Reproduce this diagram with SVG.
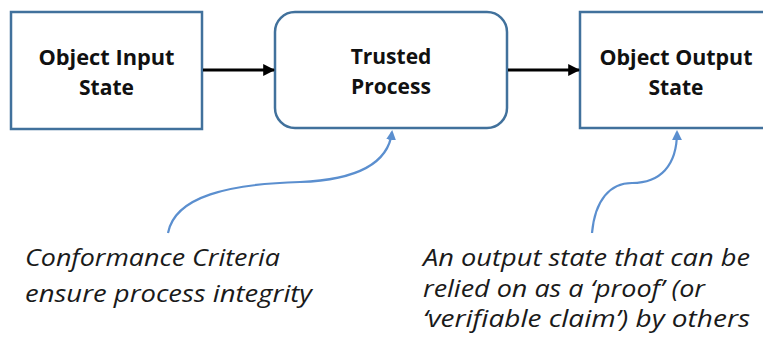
<svg xmlns="http://www.w3.org/2000/svg" width="763" height="341" viewBox="0 0 763 341">
  <style>
    .box { fill: #ffffff; stroke: #41719c; stroke-width: 2.5; }
    .label { font-family: "Open Sans", "Liberation Sans", sans-serif; font-weight: bold; font-size: 21px; fill: #111111; text-anchor: middle; }
    .note { font-family: "Open Sans", "Liberation Sans", sans-serif; font-style: italic; font-size: 24px; fill: #1a1a1a; }
    .flow { fill: none; stroke: #000000; stroke-width: 3; }
    .callout { fill: none; stroke: #5b8fcf; stroke-width: 2.2; }
  </style>
  <defs>
    <marker id="arrowBlack" viewBox="0 0 10 10" refX="9" refY="5" markerWidth="4" markerHeight="4" orient="auto" markerUnits="strokeWidth">
      <path d="M0,0 L10,5 L0,10 Z" fill="#000000"/>
    </marker>
    <marker id="arrowBlue" viewBox="0 0 10 10" refX="8" refY="5" markerWidth="4.5" markerHeight="4.5" orient="auto" markerUnits="strokeWidth">
      <path d="M0,0 L10,5 L0,10 Z" fill="#5b8fcf"/>
    </marker>
  </defs>

  <rect width="763" height="341" fill="#ffffff"/>

  <g id="input-state">
    <rect class="box" x="11" y="12" width="191" height="117"/>
    <text class="label" x="106.5" y="65" textLength="136" lengthAdjust="spacingAndGlyphs">Object Input</text>
    <text class="label" x="106.5" y="95">State</text>
  </g>

  <g id="trusted-process">
    <rect class="box" x="275" y="12" width="232" height="116" rx="20" ry="20"/>
    <text class="label" x="391" y="64">Trusted</text>
    <text class="label" x="391" y="94">Process</text>
  </g>

  <g id="output-state">
    <rect class="box" x="580" y="12" width="200" height="116"/>
    <text class="label" x="676" y="65" textLength="153" lengthAdjust="spacingAndGlyphs">Object Output</text>
    <text class="label" x="676" y="95">State</text>
  </g>

  <g id="connectors">
    <line class="flow" x1="203" y1="70" x2="274" y2="70" marker-end="url(#arrowBlack)"/>
    <line class="flow" x1="508" y1="70" x2="579" y2="70" marker-end="url(#arrowBlack)"/>
    <path class="callout" d="M168,233 C175,196 230,184 300,182 C352,180 388,166 392,132" marker-end="url(#arrowBlue)"/>
    <path class="callout" d="M592,233 C595,200 610,183 632,183 C660,183 677,166 677,132" marker-end="url(#arrowBlue)"/>
  </g>

  <g id="note-conformance">
    <text class="note" x="25" y="266" textLength="255" lengthAdjust="spacingAndGlyphs">Conformance Criteria</text>
    <text class="note" x="25" y="302" textLength="287" lengthAdjust="spacingAndGlyphs">ensure process integrity</text>
  </g>

  <g id="note-output">
    <text class="note" x="423" y="266" textLength="327" lengthAdjust="spacingAndGlyphs">An output state that can be</text>
    <text class="note" x="423" y="297" textLength="282" lengthAdjust="spacingAndGlyphs">relied on as a ‘proof’ (or</text>
    <text class="note" x="423" y="327" textLength="327" lengthAdjust="spacingAndGlyphs">‘verifiable claim’) by others</text>
  </g>
</svg>
